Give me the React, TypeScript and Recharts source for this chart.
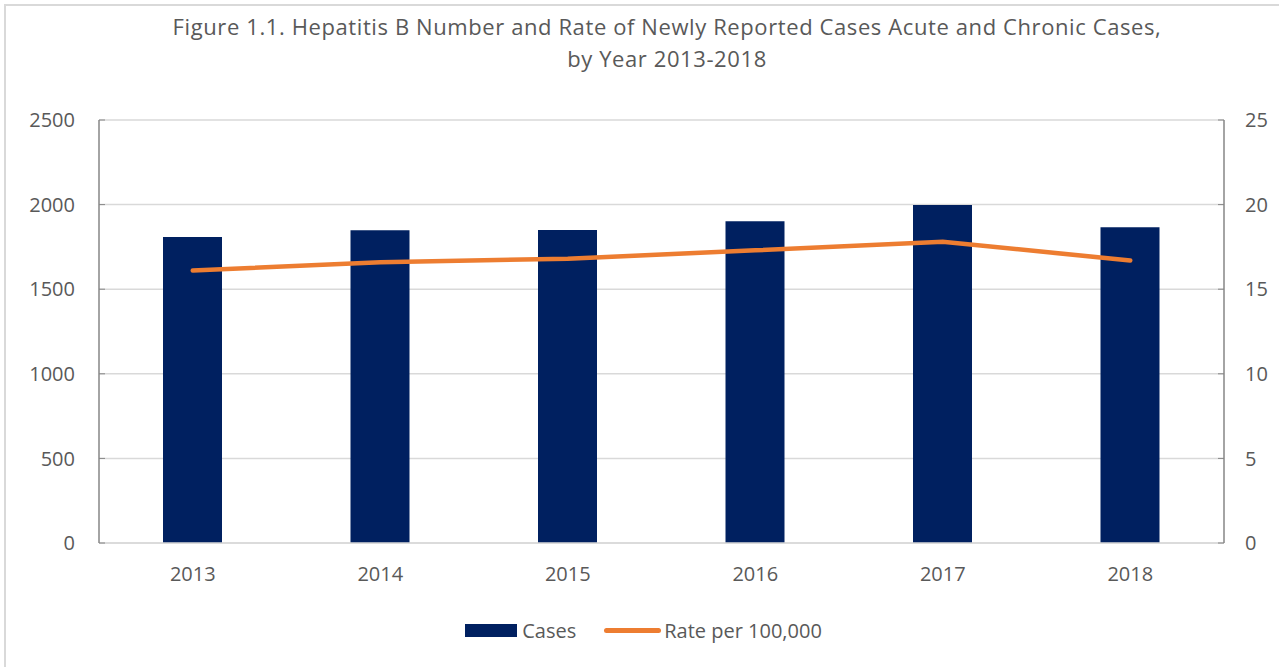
import { ComposedChart, Bar, Line, XAxis, YAxis, CartesianGrid, Legend } from "recharts"

const years = ["2013", "2014", "2015", "2016", "2017", "2018"]
const cases = [1808, 1848, 1850, 1901, 1998, 1866]
const rates = [16.1, 16.6, 16.8, 17.3, 17.8, 16.7]
const caseTicks = [0, 500, 1000, 1500, 2000, 2500]
const rateTicks = [0, 5, 10, 15, 20, 25]

const FONT = "'Open Sans', sans-serif"
const TEXT = "#595959"
const NAVY = "#002060"
const ORANGE = "#ED7D31"

const data = years.map((year, i) => ({ year, cases: cases[i], rate: rates[i] }))

function LegendBox() {
  return (
    <div
      style={{
        height: 30,
        display: "flex",
        alignItems: "center",
        justifyContent: "center",
        fontFamily: FONT,
        fontSize: 20,
        color: TEXT,
        paddingLeft: 8,
      }}
    >
      <span style={{ display: "inline-block", width: 52, height: 13, background: NAVY, marginRight: 5 }} />
      <span style={{ marginRight: 28 }}>Cases</span>
      <span style={{ display: "inline-block", width: 57, height: 5, borderRadius: 2.5, background: ORANGE, marginRight: 3 }} />
      <span>Rate per 100,000</span>
    </div>
  )
}

export default function App() {
  const tickStyle = { fontFamily: FONT, fontSize: 20, fill: TEXT }
  return (
    <div style={{ position: "absolute", left: 0, top: 0, width: 1279, height: 667, background: "#fff", overflow: "hidden" }}>
      <div
        style={{
          position: "absolute",
          left: 4,
          top: 4,
          width: 1300,
          height: 700,
          border: "2px solid #d9d9d9",
        }}
      />
      <div
        style={{
          position: "absolute",
          left: 0,
          top: 10,
          width: 1334,
          textAlign: "center",
          fontFamily: FONT,
          fontSize: 22,
          letterSpacing: 0.6,
          lineHeight: "32px",
          color: TEXT,
        }}
      >
        Figure 1.1. Hepatitis B Number and Rate of Newly Reported Cases Acute and Chronic Cases,
        <br />
        by Year 2013-2018
      </div>
      <div style={{ position: "absolute", left: 0, top: 0 }}>
        <ComposedChart
          width={1279}
          height={667}
          data={data}
          margin={{ top: 120, right: 0, bottom: 22, left: 0 }}
        >
          <CartesianGrid vertical={false} stroke="#d9d9d9" strokeWidth={1.5} yAxisId="left" />
          <XAxis
            dataKey="year"
            height={72}
            tick={tickStyle}
            tickLine={false}
            tickMargin={18}
            axisLine={{ stroke: "#d9d9d9", strokeWidth: 1.5 }}
          />
          <YAxis
            yAxisId="left"
            width={99}
            domain={[0, 2500]}
            ticks={caseTicks}
            tick={tickStyle}
            tickSize={-6}
            tickMargin={30}
            tickLine={{ stroke: "#868686" }}
            axisLine={{ stroke: "#868686", strokeWidth: 1.5 }}
          />
          <YAxis
            yAxisId="right"
            orientation="right"
            width={55}
            domain={[0, 25]}
            ticks={rateTicks}
            tick={tickStyle}
            tickSize={-6}
            tickMargin={27}
            tickLine={{ stroke: "#868686" }}
            axisLine={{ stroke: "#868686", strokeWidth: 1.5 }}
          />
          <Bar yAxisId="left" dataKey="cases" name="Cases" fill={NAVY} barSize={59} isAnimationActive={false} />
          <Line
            yAxisId="right"
            dataKey="rate"
            name="Rate per 100,000"
            type="linear"
            stroke={ORANGE}
            strokeWidth={4.5}
            strokeLinecap="round"
            dot={false}
            activeDot={false}
            isAnimationActive={false}
          />
          <Legend verticalAlign="bottom" content={() => <LegendBox />} />
        </ComposedChart>
      </div>
    </div>
  )
}
